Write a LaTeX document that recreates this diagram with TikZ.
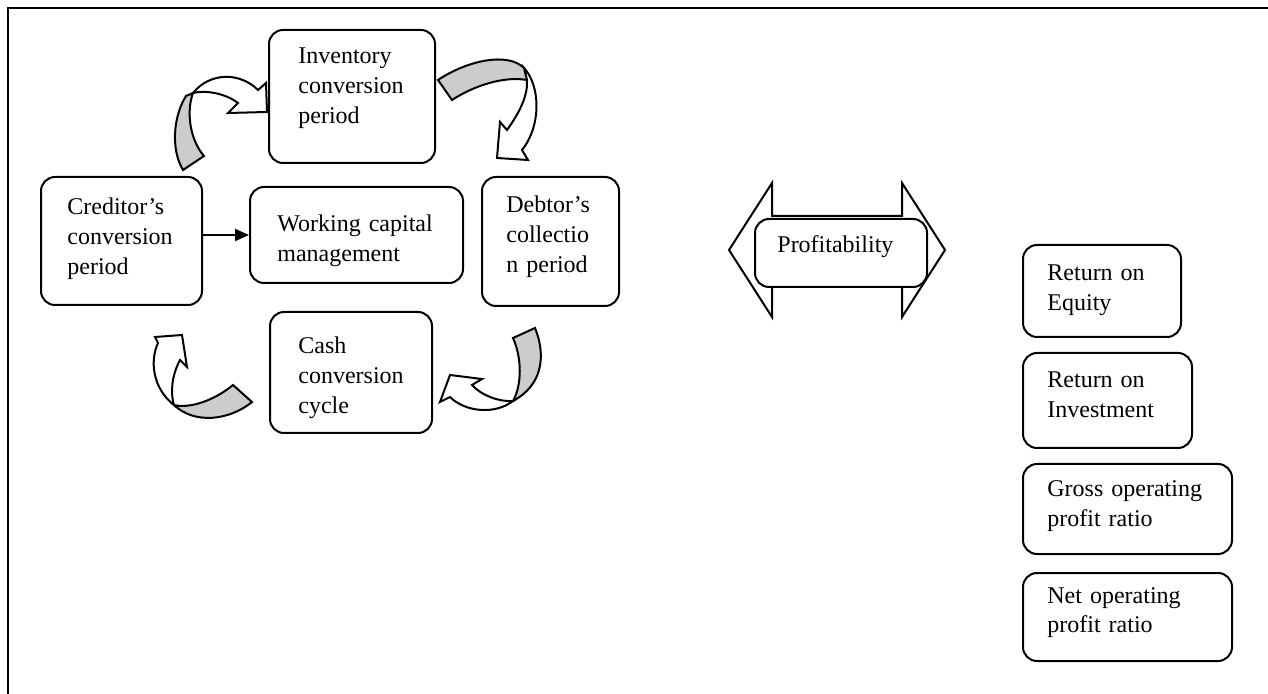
\documentclass[tikz,border=0pt]{standalone}
\usepackage{fontspec}
\setmainfont{Liberation Serif}
\usetikzlibrary{fit,arrows.meta}
\definecolor{bandgray}{RGB}{204,204,204}
\tikzset{
  box/.style={draw, line width=1pt, rounded corners=7pt, fill=white, inner sep=0pt},
  boxtext/.style={anchor=base west, inner sep=0pt, text width=110pt, align=left,
                  font=\fontsize{12}{14.8}\selectfont},
  bandfront/.style={draw, line width=1pt, fill=white, line join=miter},
  bandback/.style={draw, line width=1pt, fill=bandgray, line join=miter},
  link/.style={line width=1pt, -{Triangle[length=7pt,width=6pt]}},
}
\begin{document}
\begin{tikzpicture}[x=0.5pt, y=-0.5pt]
\useasboundingbox (0,0) rectangle (1268,694);

% page frame (top and left rules)
\draw[line width=1.2pt] (1268,8) -- (8,8) -- (8,694);

% ---- working capital cycle boxes ----
\node[box, fit={(269,30) (435,163)}] (inv) {};
\node[box, fit={(41,177) (202,305)}] (cred) {};
\node[box, fit={(250,187) (463,283)}] (wcm) {};
\node[box, fit={(482,177) (619,306)}] (debt) {};
\node[box, fit={(270,312) (432,433)}] (cash) {};

\node[boxtext] (inv-t)  at (298,64)  {Inventory\\conversion\\period};
\node[boxtext] (cred-t) at (67,215)  {Creditor’s\\conversion\\period};
\node[boxtext] (wcm-t)  at (277,232) {Working capital\\management};
\node[boxtext] (debt-t) at (506,213) {Debtor’s\\collectio\\n period};
\node[boxtext] (cash-t) at (298,354) {Cash\\conversion\\cycle};

\draw[link] (cred.east |- wcm) -- (wcm.west);

% ---- curved ribbon arrows around the cycle ----
% creditor -> inventory
\draw[bandback] (186,96) .. controls (174,115) and (170,148) .. (183,170)
   -- (204,156) .. controls (190,140) and (186,112) .. (193,93) -- cycle;
\draw[bandfront] (193,93) .. controls (210,72) and (240,72) .. (258,90)
   -- (266,83) -- (267,112) -- (228,113) -- (238,103)
   .. controls (225,93) and (205,90) .. (193,93) -- cycle;

% inventory -> debtor
\draw[bandback] (438,80) .. controls (468,60) and (508,52) .. (524,68)
   .. controls (527,72) and (528,76) .. (527,80)
   .. controls (505,76) and (475,85) .. (452,100) -- cycle;
\draw[bandfront] (524,68) .. controls (540,85) and (542,125) .. (522,150)
   -- (528,160) -- (497,158) -- (500,122) -- (507,130)
   .. controls (520,112) and (528,95) .. (527,80) -- cycle;

% debtor -> cash
\draw[bandback] (513,338) -- (535,328) .. controls (546,355) and (543,385) .. (513,401)
   .. controls (522,385) and (522,358) .. (513,338) -- cycle;
\draw[bandfront] (513,401) .. controls (495,415) and (465,412) .. (450,397)
   -- (440,402) -- (450,375) -- (482,379) -- (472,385)
   .. controls (482,396) and (500,402) .. (513,401) -- cycle;

% cash -> creditor
\draw[bandback] (233,385) -- (252,402) .. controls (230,420) and (195,425) .. (174,405)
   .. controls (190,409) and (215,400) .. (233,385) -- cycle;
\draw[bandfront] (174,405) .. controls (152,388) and (150,360) .. (158,343)
   -- (155,337) -- (182,335) -- (187,367) -- (180,360)
   .. controls (172,375) and (170,392) .. (174,405) -- cycle;

% ---- two-headed arrow with profitability ----
\draw[line width=1pt, fill=white] (729,250) -- (772,183) -- (772,216) -- (902,216)
   -- (902,183) -- (945,250) -- (902,317) -- (902,284) -- (772,284) -- (772,317) -- cycle;
\node[box, fit={(755,219) (927,287)}] (prof) {};
\node[boxtext] (prof-t) at (777,253) {Profitability};

% ---- profitability measures ----
\node[box, fit={(1023,245) (1181,337)}] (roe) {};
\node[box, fit={(1023,353) (1192,448)}] (roi) {};
\node[box, fit={(1023,464) (1232,554)}] (gop) {};
\node[box, fit={(1023,573) (1232,661)}] (nop) {};

\node[boxtext] (roe-t) at (1047,281) {Return on\\Equity};
\node[boxtext] (roi-t) at (1047,388) {Return on\\Investment};
\node[boxtext] (gop-t) at (1047,497) {Gross operating\\profit ratio};
\node[boxtext] (nop-t) at (1047,603) {Net operating\\profit ratio};
\end{tikzpicture}
\end{document}
